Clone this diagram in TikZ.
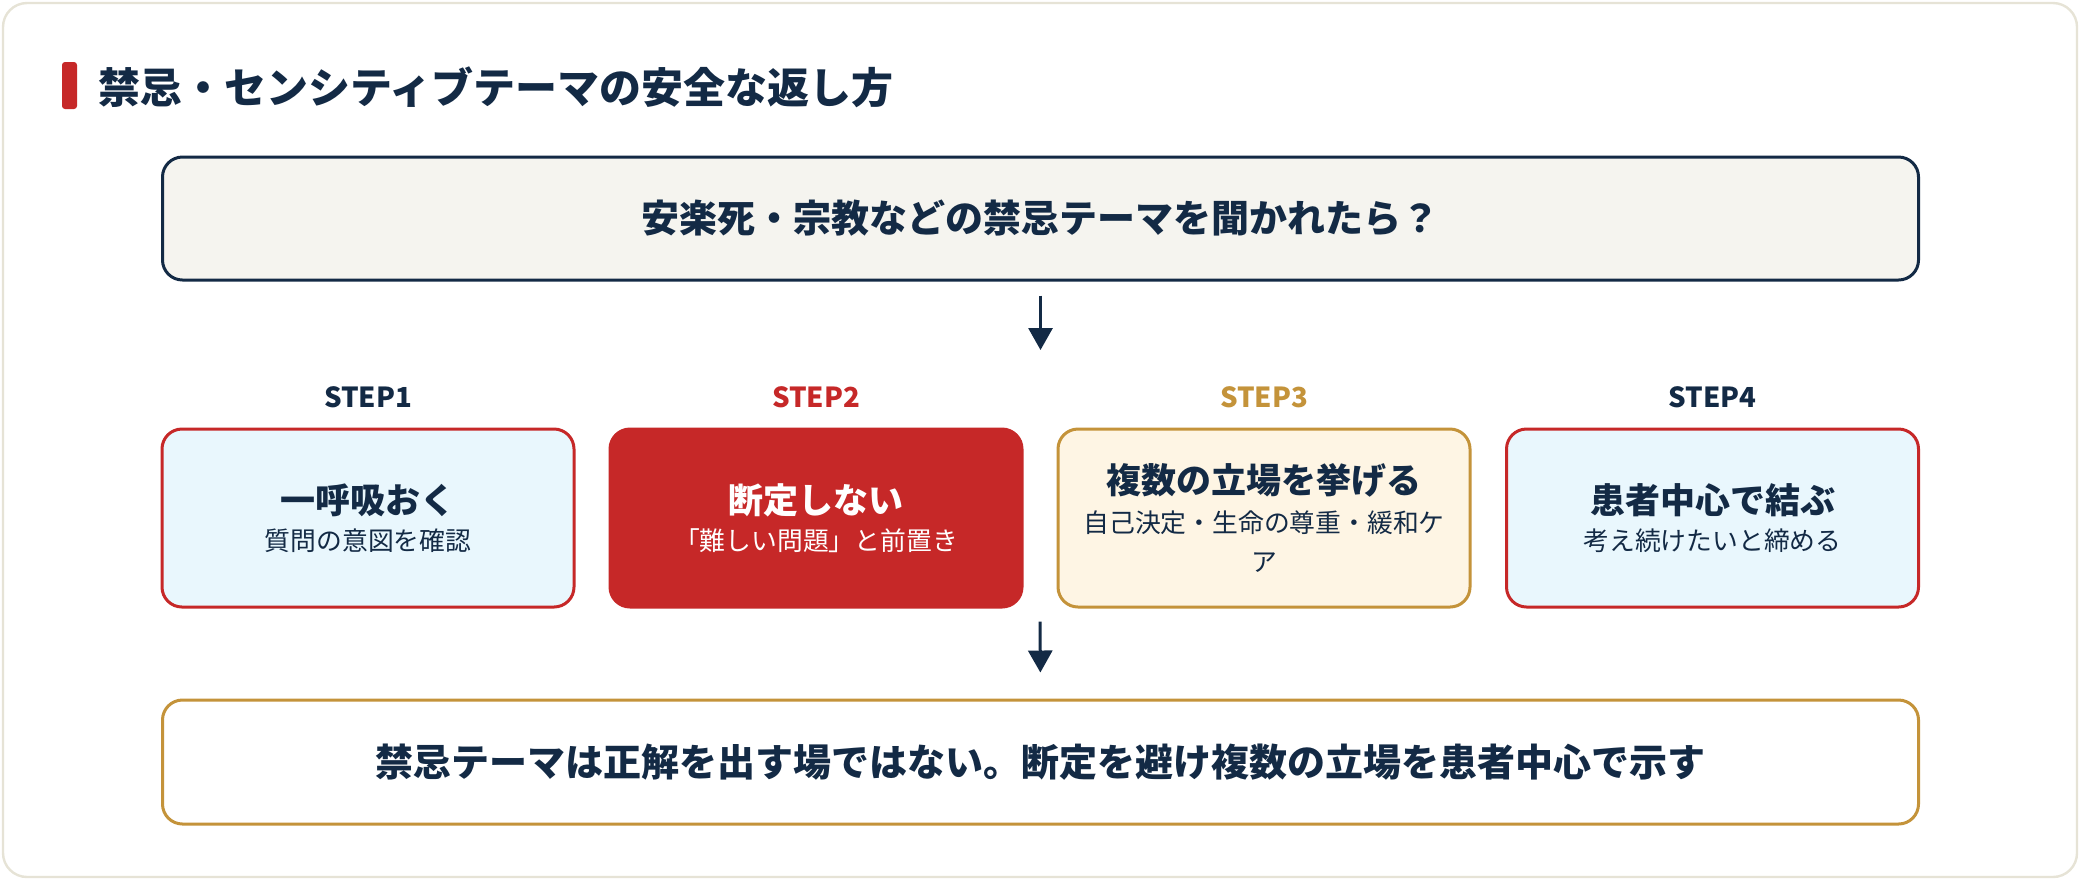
\documentclass[tikz,border=0pt]{standalone}
\usepackage{fontspec}
\setmainfont{Noto Sans CJK JP}
\usetikzlibrary{arrows.meta,calc}
\definecolor{navy}{HTML}{132A45}
\definecolor{brick}{HTML}{C62828}
\definecolor{gold}{HTML}{C4933A}
\definecolor{iceblue}{HTML}{E9F7FD}
\definecolor{cream}{HTML}{FEF5E4}
\definecolor{paper}{HTML}{F5F4EF}
\definecolor{cardline}{HTML}{E6E3D6}
\tikzset{
  stepbox/.style={rounded corners=10pt, line width=1.5pt, minimum width=206pt, minimum height=89pt, align=center, inner sep=0pt, font=\fontsize{12.9pt}{20.5pt}\selectfont},
  bluebox/.style={stepbox, draw=brick, fill=iceblue, text=navy},
  redbox/.style={stepbox, draw=brick, fill=brick, text=white},
  goldbox/.style={stepbox, draw=gold, fill=cream, text=navy},
  widebox/.style={rounded corners=10pt, line width=1.5pt, minimum width=878pt, minimum height=61.5pt, align=center, font=\fontsize{19pt}{22pt}\selectfont\bfseries, text=navy},
  steplabel/.style={font=\fontsize{13.8pt}{16pt}\selectfont\bfseries},
  flowarrow/.style={draw=navy, line width=1.5pt, -{Triangle[length=11pt,width=12pt]}},
}
\newcommand{\maintxt}[1]{{\fontsize{17.5pt}{20.5pt}\selectfont\bfseries #1}}
\begin{document}
\begin{tikzpicture}[x=0.5pt,y=-0.5pt]
\useasboundingbox (0,0) rectangle (2080,880);
\draw[cardline, line width=1.2pt, fill=white, rounded corners=12pt] (3,3) rectangle (2077,877);
% title
\fill[brick, rounded corners=1.5pt] (62,62) rectangle (77,109);
\node[anchor=west, inner sep=0pt, text=navy, font=\fontsize{21pt}{24pt}\selectfont\bfseries] (title) at (98,87) {禁忌・センシティブテーマの安全な返し方};
% top box
\node[widebox, draw=navy, fill=paper] (top) at (1040.5,218.5) {安楽死・宗教などの禁忌テーマを聞かれたら？};
% step labels
\node[steplabel, text=navy] (l1) at (368,397) {STEP1};
\node[steplabel, text=brick] (l2) at (816,397) {STEP2};
\node[steplabel, text=gold] (l3) at (1264,397) {STEP3};
\node[steplabel, text=navy] (l4) at (1712.5,397) {STEP4};
% step boxes
\node[bluebox] (s1) at (368,518) {\maintxt{一呼吸おく}\\[-2pt]質問の意図を確認};
\node[redbox] (s2) at (816,518) {\maintxt{断定しない}\\[-2pt]「難しい問題」と前置き};
\node[goldbox] (s3) at (1264,518) {\maintxt{複数の立場を挙げる}\\[-1pt]自己決定・生命の尊重・緩和ケ\\[-1pt]ア};
\node[bluebox] (s4) at (1712.5,518) {\maintxt{患者中心で結ぶ}\\[-2pt]考え続けたいと締める};
% bottom box
\node[widebox, draw=gold, fill=white, minimum height=62pt] (bot) at (1040.5,762) {禁忌テーマは正解を出す場ではない。断定を避け複数の立場を患者中心で示す};
% arrows
\coordinate (a1) at (1040.5,350);
\draw[flowarrow, shorten <=7pt] (top.south) -- (a1);
\coordinate (m1) at ($(s2.south east)!0.5!(s3.south west)$);
\draw[flowarrow, shorten <=6.5pt, shorten >=13pt] (m1) -- (bot.north);
\end{tikzpicture}
\end{document}
